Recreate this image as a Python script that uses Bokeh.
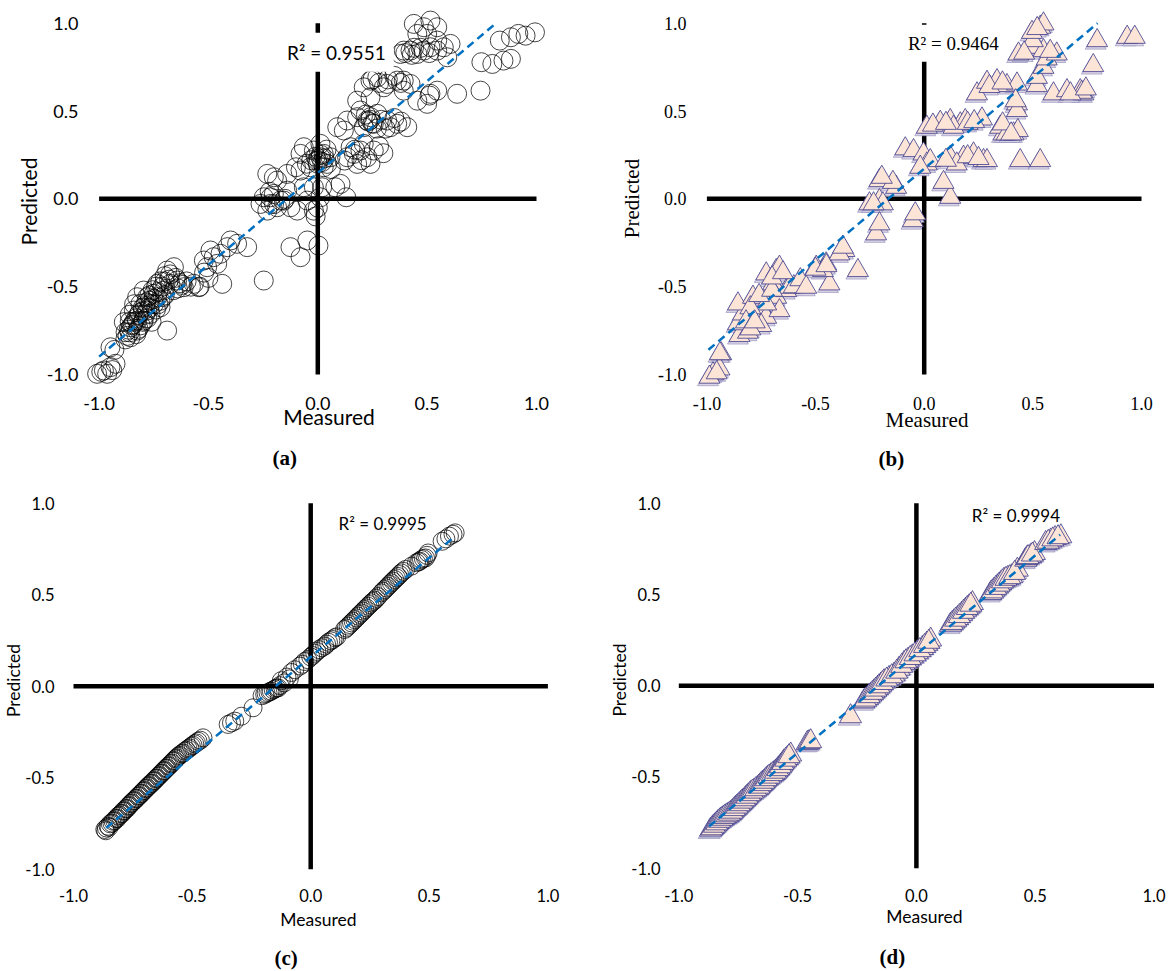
import numpy as np
from bokeh.plotting import figure
from bokeh.layouts import column, row
from bokeh.models import Range1d, FixedTicker, NumeralTickFormatter, Label, Title
from bokeh.embed import file_html
from bokeh.resources import INLINE

# ---------------------------------------------------------------- data
TICKS = [-1.0, -0.5, 0.0, 0.5, 1.0]

# (a) training set, circles
a_measured = [
    -1.009, -0.978, -0.948, -0.925, -0.963, -0.990, -0.940,
    -0.948, -0.930,
    -0.879, -0.856, -0.887, -0.826, -0.841, -0.811, -0.780, -0.796, -0.750, -0.734, -0.704, -0.674, -0.643,
    -0.689, -0.658, -0.613, -0.719, -0.765, -0.796, -0.826, -0.856, -0.765, -0.689, -0.734, -0.826, -0.780,
    -0.870, -0.860, -0.850, -0.840, -0.820, -0.800, -0.790, -0.770, -0.750, -0.730, -0.710, -0.700, -0.680,
    -0.810, -0.830, -0.880, -0.860, -0.840, -0.780, -0.760, -0.740, -0.720, -0.700, -0.660, -0.640, -0.620,
    -0.865, -0.845, -0.830, -0.815, -0.800, -0.785, -0.770, -0.755, -0.740, -0.720, -0.700, -0.675,
    -0.650, -0.630, -0.600, -0.580, -0.860, -0.820, -0.800, -0.790, -0.770, -0.750, -0.730, -0.710,
    -0.544, -0.540, -0.567, -0.506, -0.521, -0.476, -0.491, -0.445, -0.414, -0.399, -0.369, -0.323, -0.437,
    -0.247, -0.460, -0.520, -0.500,
    -0.262, -0.216, -0.186, -0.155, -0.231, -0.125, -0.201, -0.140, -0.079, -0.064, -0.094, -0.125, -0.079,
    -0.048, 0.003, -0.247, -0.201, -0.171, -0.216, -0.140, -0.186, -0.231, -0.048, -0.018, 0.012, -0.018,
    0.104, 0.130, 0.020, 0.080, 0.000, -0.010, -0.150, -0.200, -0.220,
    0.012, 0.027, -0.003, -0.018, -0.064, 0.043, 0.058, -0.033, 0.012, -0.079, 0.027, 0.005, 0.015, 0.000,
    0.020, -0.010, -0.030, 0.030, 0.040, -0.050, 0.060, -0.100,
    0.165, 0.195, 0.226, 0.180, 0.241, 0.134, 0.210, 0.256, 0.150, 0.122, 0.280, 0.300, 0.200, 0.170,
    0.226, 0.241, 0.210, 0.256, 0.180, 0.134, 0.272, 0.195, 0.317, 0.332, 0.363, 0.409, 0.089, 0.119,
    0.230, 0.240, 0.250, 0.290, 0.350, 0.380, 0.310, 0.270, 0.220,
    0.241, 0.272, 0.317, 0.363, 0.393, 0.424, 0.210, 0.302, 0.393, 0.180, 0.241, 0.455, 0.515, 0.500,
    0.250, 0.380, 0.320, 0.350, 0.280,
    0.546, 0.637, 0.744, 0.511,
    0.393, 0.424, 0.455, 0.485, 0.378, 0.515, 0.546, 0.576, 0.607, 0.546, 0.592, 0.400, 0.430,
    0.440, 0.470, 0.510,
    0.439, 0.485, 0.515, 0.455, 0.500, 0.546,
    0.748, 0.798, 0.849, 0.883, 0.832, 0.883, 0.950, 0.993, 0.917,
]
a_predicted = [
    -0.996, -0.977, -0.958, -0.939, -0.996, -0.985, -0.975,
    -0.845, -0.860,
    -0.759, -0.731, -0.702, -0.693, -0.636, -0.598, -0.560, -0.522, -0.541, -0.484, -0.522, -0.484, -0.465,
    -0.408, -0.389, -0.503, -0.617, -0.655, -0.693, -0.750, -0.788, -0.598, -0.750, -0.560, -0.560, -0.636,
    -0.780, -0.760, -0.720, -0.700, -0.660, -0.640, -0.610, -0.580, -0.570, -0.530, -0.500, -0.470, -0.460,
    -0.720, -0.770, -0.800, -0.660, -0.600, -0.680, -0.700, -0.630, -0.580, -0.550, -0.520, -0.510, -0.490,
    -0.745, -0.715, -0.680, -0.650, -0.620, -0.590, -0.550, -0.520, -0.500, -0.470, -0.440, -0.430,
    -0.450, -0.480, -0.470, -0.500, -0.700, -0.740, -0.700, -0.660, -0.620, -0.600, -0.600, -0.560,
    -0.503, -0.500, -0.484, -0.389, -0.351, -0.332, -0.294, -0.313, -0.275, -0.237, -0.256, -0.275, -0.484,
    -0.465, -0.370, -0.420, -0.450,
    -0.029, 0.009, -0.048, -0.010, -0.067, -0.048, 0.123, 0.142, 0.161, 0.066, -0.067, -0.275, -0.332,
    -0.237, -0.266, 0.009, 0.028, -0.010, -0.029, 0.047, 0.104, 0.142, -0.010, -0.067, 0.009, 0.066,
    0.085, 0.009, 0.066, 0.066, -0.050, -0.100, 0.000, -0.030, 0.040,
    0.237, 0.256, 0.218, 0.275, 0.294, 0.199, 0.237, 0.180, 0.313, 0.256, 0.180, 0.220, 0.250, 0.200,
    0.210, 0.240, 0.220, 0.230, 0.280, 0.200, 0.170, 0.180,
    0.256, 0.275, 0.237, 0.199, 0.199, 0.237, 0.313, 0.275, 0.294, 0.218, 0.300, 0.260, 0.220, 0.280,
    0.446, 0.465, 0.408, 0.427, 0.465, 0.446, 0.484, 0.503, 0.446, 0.408, 0.427, 0.408, 0.408, 0.389,
    0.440, 0.450, 0.430, 0.450, 0.460, 0.440, 0.400, 0.400, 0.480,
    0.673, 0.692, 0.654, 0.673, 0.673, 0.654, 0.635, 0.635, 0.616, 0.559, 0.578, 0.559, 0.598, 0.541,
    0.680, 0.660, 0.680, 0.700, 0.660,
    0.616, 0.598, 0.616, 0.588,
    0.844, 0.844, 0.825, 0.844, 0.825, 0.863, 0.844, 0.863, 0.882, 0.901, 0.806, 0.830, 0.820,
    0.860, 0.860, 0.830,
    0.996, 0.977, 1.015, 0.939, 0.939, 0.977,
    0.778, 0.768, 0.787, 0.797, 0.901, 0.920, 0.929, 0.948, 0.939,
]
a_trend_x = [-1.0, 0.815]
a_trend_y = [-0.898, 1.0]
a_r2 = "R\u00b2 = 0.9551"

# (b) training set, triangles
b_measured = [
    -0.972, -0.942, -0.988, -0.934, -0.955, -0.940,
    -0.850, -0.811, -0.857, -0.834, -0.857, -0.788, -0.742, -0.727, -0.773, -0.750, -0.727, -0.681, -0.666,
    -0.696, -0.681, -0.635, -0.620, -0.666, -0.727, -0.800, -0.760, -0.700, -0.820, -0.600, -0.570,
    -0.800, -0.780, -0.700, -0.650,
    -0.543, -0.451, -0.436, -0.497, -0.466, -0.367, -0.390, -0.305, -0.374, -0.500, -0.450,
    -0.221, -0.206, -0.252, -0.206, -0.190, -0.206, -0.129, -0.144, -0.052, -0.195, -0.233, -0.041,
    0.120, 0.089, -0.087, -0.049, -0.003, 0.012, 0.028, -0.018,
    0.012, 0.074, 0.120, 0.166, 0.189, 0.135, 0.266, 0.040, 0.100, 0.200, 0.230,
    0.120, 0.181, 0.227, 0.273, 0.150, 0.289, 0.100, 0.200, 0.250,
    0.365, 0.411, 0.350, 0.379, 0.431, 0.361, 0.400,
    0.442, 0.534,
    0.243, 0.289, 0.335, 0.381, 0.427, 0.427, 0.427, 0.421, 0.519, 0.519, 0.549, 0.300, 0.360,
    0.595, 0.657, 0.718, 0.733, 0.725, 0.673, 0.744, 0.778,
    0.434, 0.496, 0.549, 0.564, 0.610, 0.500, 0.580, 0.460,
    0.496, 0.534, 0.549, 0.520,
    0.796, 0.934, 0.969,
]
b_predicted = [
    -0.996, -0.968, -1.015, -0.882, -0.990, -0.881,
    -0.778, -0.759, -0.711, -0.655, -0.598, -0.560, -0.636, -0.674, -0.693, -0.721, -0.427, -0.408, -0.389,
    -0.484, -0.560, -0.522, -0.503, -0.636, -0.598, -0.620, -0.550, -0.520, -0.700, -0.500, -0.460,
    -0.740, -0.700, -0.450, -0.420,
    -0.503, -0.370, -0.484, -0.389, -0.408, -0.294, -0.313, -0.408, -0.275, -0.400, -0.380,
    -0.199, -0.142, -0.028, -0.010, -0.028, 0.104, 0.066, 0.094, -0.124, 0.123, -0.028, -0.085,
    0.009, 0.094, 0.285, 0.275, 0.256, 0.199, 0.218, 0.180,
    0.408, 0.436, 0.446, 0.427, 0.446, 0.408, 0.455, 0.420, 0.430, 0.430, 0.440,
    0.237, 0.237, 0.256, 0.218, 0.199, 0.218, 0.220, 0.240, 0.230,
    0.370, 0.370, 0.408, 0.370, 0.389, 0.427, 0.370,
    0.218, 0.218,
    0.598, 0.664, 0.673, 0.645, 0.654, 0.541, 0.503, 0.559, 0.645, 0.692, 0.749, 0.640, 0.660,
    0.598, 0.616, 0.616, 0.598, 0.607, 0.598, 0.626, 0.759,
    0.825, 0.863, 0.844, 0.797, 0.825, 0.901, 0.840, 0.830,
    0.948, 0.977, 0.996, 0.970,
    0.901, 0.920, 0.920,
]
b_trend_x = [-0.993, 0.798]
b_trend_y = [-0.859, 1.0]
b_r2 = "R\u00b2 = 0.9464"

# (c) test set, circles
c_measured = [
    -0.868, -0.861, -0.854, -0.845, -0.833, -0.822, -0.812, -0.800, -0.791, -0.780, -0.770, -0.760, -0.749,
    -0.738, -0.728, -0.717, -0.707, -0.696, -0.686, -0.675, -0.664, -0.653, -0.643, -0.632, -0.622, -0.611,
    -0.601, -0.590, -0.580, -0.570, -0.559, -0.545, -0.531, -0.517, -0.503, -0.489, -0.475, -0.454,
    -0.864, -0.850, -0.838, -0.826, -0.815, -0.805, -0.795, -0.785, -0.774, -0.764, -0.754, -0.743, -0.733,
    -0.722, -0.712, -0.701, -0.690, -0.680, -0.669, -0.658, -0.648, -0.637, -0.627, -0.616, -0.606, -0.595,
    -0.585, -0.575, -0.564, -0.552, -0.538, -0.524, -0.510, -0.496, -0.482, -0.465,
    -0.348, -0.334, -0.320, -0.292, -0.243,
    -0.194, -0.180, -0.166, -0.150, -0.137, -0.124, -0.100, -0.081, -0.067,
    -0.205, -0.188, -0.172, -0.158, -0.144, -0.130, -0.112, -0.090,
    -0.045, -0.025, 0.000, 0.017, 0.035, 0.059, 0.075, 0.094, 0.110,
    -0.035, -0.012, 0.008, 0.026, 0.047, 0.067, 0.085, 0.102,
    0.143, 0.158, 0.172, 0.186, 0.200, 0.214, 0.228, 0.242, 0.256, 0.270, 0.284,
    0.150, 0.165, 0.179, 0.193, 0.207, 0.221, 0.235, 0.249, 0.263, 0.277,
    0.298, 0.312, 0.326, 0.340, 0.354, 0.368, 0.382, 0.400,
    0.305, 0.319, 0.333, 0.347, 0.361, 0.375, 0.390,
    0.425, 0.446, 0.460, 0.467, 0.484, 0.495, 0.455, 0.475, 0.490,
    0.554, 0.585, 0.609, 0.570, 0.600,
]
c_predicted = [
    -0.783, -0.775, -0.765, -0.752, -0.738, -0.724, -0.710, -0.697, -0.683, -0.670, -0.656, -0.642, -0.628,
    -0.615, -0.601, -0.588, -0.574, -0.560, -0.546, -0.533, -0.519, -0.505, -0.492, -0.478, -0.464, -0.450,
    -0.437, -0.424, -0.410, -0.397, -0.383, -0.369, -0.355, -0.342, -0.328, -0.315, -0.301, -0.282,
    -0.790, -0.770, -0.748, -0.735, -0.722, -0.705, -0.695, -0.680, -0.668, -0.652, -0.638, -0.625, -0.612,
    -0.598, -0.585, -0.570, -0.556, -0.543, -0.530, -0.516, -0.502, -0.488, -0.475, -0.461, -0.447, -0.434,
    -0.420, -0.406, -0.392, -0.378, -0.365, -0.350, -0.337, -0.323, -0.310, -0.295,
    -0.209, -0.200, -0.191, -0.164, -0.118,
    -0.045, -0.035, -0.027, -0.015, -0.009, 0.030, 0.050, 0.075, 0.090,
    -0.052, -0.040, -0.030, -0.020, -0.010, 0.003, 0.018, 0.040,
    0.110, 0.135, 0.160, 0.180, 0.200, 0.219, 0.240, 0.255, 0.270,
    0.120, 0.145, 0.168, 0.190, 0.210, 0.230, 0.248, 0.265,
    0.310, 0.328, 0.346, 0.364, 0.383, 0.400, 0.419, 0.437, 0.455, 0.470, 0.490,
    0.318, 0.337, 0.355, 0.373, 0.392, 0.410, 0.428, 0.446, 0.463, 0.480,
    0.510, 0.528, 0.546, 0.565, 0.583, 0.600, 0.619, 0.638,
    0.519, 0.537, 0.556, 0.574, 0.592, 0.610, 0.628,
    0.656, 0.675, 0.683, 0.692, 0.701, 0.728, 0.680, 0.697, 0.715,
    0.792, 0.820, 0.838, 0.805, 0.830,
]
c_trend_x = [-0.862, 0.609]
c_trend_y = [-0.774, 0.820]
c_r2 = "R\u00b2 = 0.9995"

# (d) test set, triangles
d_measured = [
    -0.866, -0.855, -0.845, -0.835, -0.824, -0.813, -0.803, -0.792, -0.782, -0.771, -0.761, -0.750, -0.739,
    -0.729, -0.718, -0.708, -0.697, -0.683, -0.669, -0.658, -0.648, -0.637, -0.627, -0.613, -0.599, -0.588,
    -0.578, -0.567, -0.557, -0.543, -0.529, -0.459, -0.452, -0.445,
    -0.860, -0.850, -0.840, -0.829, -0.818, -0.808, -0.797, -0.787, -0.776, -0.766, -0.755, -0.745, -0.734,
    -0.723, -0.713, -0.702, -0.690, -0.676, -0.663, -0.653, -0.642, -0.632, -0.620, -0.606, -0.593, -0.583,
    -0.572, -0.562, -0.550, -0.536,
    -0.277,
    -0.221, -0.206, -0.192, -0.178, -0.164, -0.150, -0.136, -0.115, -0.094, -0.073, -0.052, -0.035, -0.017,
    0.004, 0.025, 0.043, 0.060,
    -0.214, -0.199, -0.185, -0.171, -0.157, -0.143, -0.125, -0.104, -0.083, -0.062, -0.044, -0.026, -0.006,
    0.014, 0.034, 0.052,
    0.144, 0.158, 0.173, 0.190, 0.207, 0.222, 0.236, 0.151, 0.165, 0.181, 0.198, 0.214, 0.229,
    0.313, 0.327, 0.341, 0.355, 0.369, 0.385, 0.401, 0.425,
    0.320, 0.334, 0.348, 0.362, 0.377, 0.393, 0.413,
    0.460, 0.465, 0.480, 0.497, 0.470, 0.488,
    0.544, 0.565, 0.584, 0.608, 0.555, 0.574, 0.596,
]
d_predicted = [
    -0.789, -0.775, -0.761, -0.748, -0.734, -0.725, -0.716, -0.707, -0.698, -0.684, -0.670, -0.657, -0.643,
    -0.630, -0.616, -0.602, -0.588, -0.575, -0.561, -0.547, -0.533, -0.520, -0.506, -0.492, -0.479, -0.465,
    -0.451, -0.433, -0.415, -0.397, -0.378, -0.314, -0.310, -0.305,
    -0.782, -0.768, -0.755, -0.741, -0.730, -0.720, -0.711, -0.702, -0.691, -0.677, -0.663, -0.650, -0.636,
    -0.623, -0.609, -0.595, -0.581, -0.568, -0.554, -0.540, -0.527, -0.513, -0.499, -0.485, -0.472, -0.458,
    -0.442, -0.424, -0.406, -0.387,
    -0.168,
    -0.086, -0.068, -0.049, -0.031, -0.013, 0.005, 0.024, 0.042, 0.060, 0.092, 0.124, 0.142, 0.160,
    0.183, 0.206, 0.229, 0.252,
    -0.077, -0.058, -0.040, -0.022, -0.004, 0.014, 0.033, 0.051, 0.076, 0.108, 0.133, 0.151, 0.171,
    0.194, 0.217, 0.240,
    0.334, 0.352, 0.370, 0.393, 0.416, 0.434, 0.452, 0.343, 0.361, 0.381, 0.404, 0.425, 0.443,
    0.507, 0.526, 0.544, 0.562, 0.580, 0.590, 0.599, 0.635,
    0.516, 0.535, 0.553, 0.571, 0.585, 0.594, 0.617,
    0.690, 0.699, 0.710, 0.726, 0.704, 0.718,
    0.781, 0.795, 0.808, 0.818, 0.788, 0.801, 0.813,
]
d_trend_x = [-0.872, 0.605]
d_trend_y = [-0.770, 0.827]
d_r2 = "R\u00b2 = 0.9994"

# ---------------------------------------------------------------- styling
SANS = "Lato"
SERIF = "Liberation Serif"
TREND_COLOR = "#0070C0"
TRI_FILL = "#FCE4D6"
TRI_LINE = "#3A3A8C"
TRI_SHADOW_FILL = "#DCD4E4"
TRI_SHADOW_LINE = "#8C88B8"


class Panel:
    """One scatter panel laid out on the page in pixel geometry.

    xpix: page x of measured -1 and +1; ypix: page y of predicted +1 and -1;
    frame: (left, top, width, height) of the plotting area on the page;
    origin: page position of the figure's top-left corner.
    """

    def __init__(self, xpix, ypix, frame, origin, right, bottom, font, tick_size, x_standoff, y_standoff):
        xl, xr = xpix
        yt, yb = ypix
        self.sx, self.cx = (xr - xl) / 2.0, (xl + xr) / 2.0
        self.sy, self.cy = (yb - yt) / 2.0, (yt + yb) / 2.0
        fl, ft, fw, fh = frame
        self.fl = fl
        self.font = font
        p = figure(
            frame_width=fw, frame_height=fh,
            x_range=Range1d(self.dx(fl), self.dx(fl + fw)),
            y_range=Range1d(self.dy(ft + fh), self.dy(ft)),
            min_border_left=fl - origin[0], min_border_top=ft - origin[1],
            min_border_right=right, min_border_bottom=bottom,
            toolbar_location=None, output_backend="svg",
            background_fill_color="white", border_fill_color="white",
        )
        p.outline_line_color = None
        p.grid.visible = False
        for ax, so in ((p.xaxis, x_standoff), (p.yaxis, y_standoff)):
            ax.ticker = FixedTicker(ticks=TICKS)
            ax.formatter = NumeralTickFormatter(format="0.0")
            ax.axis_line_color = None
            ax.major_tick_line_color = None
            ax.minor_tick_line_color = None
            ax.major_tick_out = 0
            ax.major_tick_in = 0
            ax.major_label_standoff = so
            ax.major_label_text_font = font
            ax.major_label_text_font_size = tick_size
            ax.major_label_text_color = "#000000"
            ax.axis_label_text_font = font
            ax.axis_label_text_font_style = "normal"
            ax.axis_label_text_color = "#000000"
        # the crossing axes through the origin
        p.segment(x0=[TICKS[0], 0.0], y0=[0.0, TICKS[0]], x1=[TICKS[-1], 0.0], y1=[0.0, TICKS[-1]],
                  line_color="black", line_width=4.5, line_cap="butt")
        self.p = p

    def dx(self, px):
        return (px - self.cx) / self.sx

    def dy(self, py):
        return (self.cy - py) / self.sy

    def titles(self, size, x_standoff, y_standoff):
        self.p.xaxis.axis_label = "Measured"
        self.p.yaxis.axis_label = "Predicted"
        for ax, so in ((self.p.xaxis, x_standoff), (self.p.yaxis, y_standoff)):
            ax.axis_label_text_font_size = size
            ax.axis_label_standoff = so

    def r2(self, px, py, txt, size, pad):
        extra = dict(background_fill_color="white", padding=pad) if pad else {}
        self.p.add_layout(Label(x=self.dx(px - pad), y=self.dy(py), text=txt, text_font=self.font,
                                text_font_size=size, text_align="left", text_baseline="middle",
                                text_color="#000000", **extra))

    def caption(self, left_px, letter, standoff):
        self.p.add_layout(Title(text="(%s)" % letter, align="left", offset=left_px - self.fl,
                                text_font=SERIF, text_font_size="21px", text_font_style="bold",
                                text_color="#000000", standoff=standoff), "below")


def circles(pn, xs, ys, size):
    pn.p.scatter(xs, ys, marker="circle", size=size, fill_color=None,
                 line_color="black", line_alpha=0.72, line_width=1.0)


def triangles(pn, xs, ys, size):
    # soft drop shadow a couple of pixels down-left, then the marker itself
    sx = np.asarray(xs) - 1.5 / pn.sx
    sy = np.asarray(ys) - 2.5 / pn.sy
    pn.p.scatter(sx, sy, marker="triangle", size=size, fill_color=TRI_SHADOW_FILL,
                 line_color=TRI_SHADOW_LINE, line_width=0.6)
    pn.p.scatter(xs, ys, marker="triangle", size=size, fill_color=TRI_FILL,
                 line_color=TRI_LINE, line_width=0.8)


def trend(pn, xs, ys):
    pn.p.line(xs, ys, line_color=TREND_COLOR, line_width=2.5, line_dash="8 5")


# ---------------------------------------------------------------- (a)
pa = Panel((98.6, 536.0), (22.7, 374.0), (84, 8, 489, 386), (0, 0), 5, 86,
           SANS, "18px", 2, 6)
circles(pa, a_measured, a_predicted, 19)
trend(pa, a_trend_x, a_trend_y)
pa.r2(286.6, 51.7, a_r2, "19px", 8)
pa.titles("21px", -9, 3)
pa.caption(272.0, "a", 24)

# ---------------------------------------------------------------- (b)
pb = Panel((706.4, 1141.0), (22.7, 374.0), (696, 8, 461, 380), (578, 0), 10, 92,
           SERIF, "18px", 8, 10)
triangles(pb, b_measured, b_predicted, 21)
trend(pb, b_trend_x, b_trend_y)
pb.r2(907.4, 42.7, b_r2, "19px", 8)
pb.titles("21px", -5, 11)
pb.caption(878.0, "b", 21)

# ---------------------------------------------------------------- (c)
pc = Panel((73.0, 547.4), (501.7, 867.7), (70, 487, 496, 384), (0, 480), 4, 100,
           SANS, "16.5px", 16, 16)
circles(pc, c_measured, c_predicted, 18)
trend(pc, c_trend_x, c_trend_y)
pc.r2(338.0, 521.7, c_r2, "17px", 0)
pc.titles("17.5px", 4, -2)
pc.caption(274.0, "c", 23)

# ---------------------------------------------------------------- (d)
pd_ = Panel((678.3, 1153.5), (501.7, 866.7), (677, 487, 494, 383), (570, 480), 1, 101,
            SANS, "16.5px", 17, 17)
triangles(pd_, d_measured, d_predicted, 22)
trend(pd_, d_trend_x, d_trend_y)
pd_.r2(971.3, 514.0, d_r2, "17px", 0)
pd_.titles("17.5px", 1, -2)
pd_.caption(879.0, "d", 26)

layout = column(row(pa.p, pb.p), row(pc.p, pd_.p))

with open("out.html", "w") as f:
    f.write(file_html(layout, INLINE))
